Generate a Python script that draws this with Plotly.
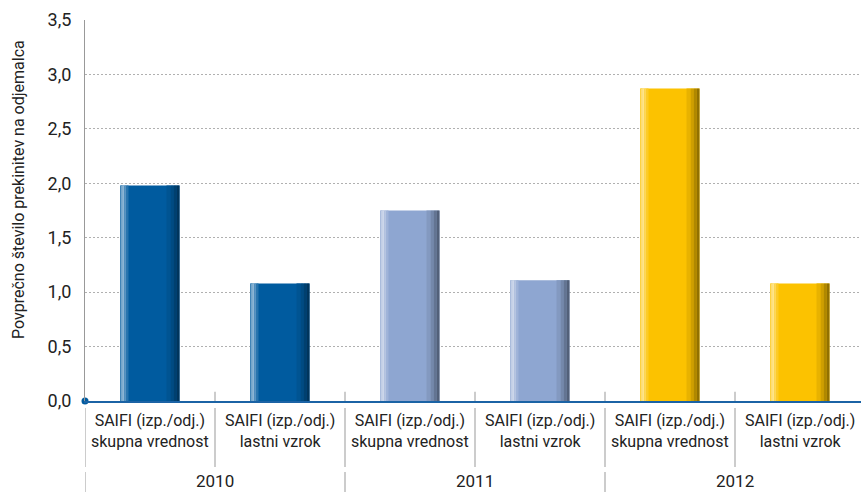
import plotly.graph_objects as go

# ---- data ----
categories = ["SAIFI (izp./odj.)<br>skupna vrednost", "SAIFI (izp./odj.)<br>lastni vzrok",
              "SAIFI (izp./odj.)<br>skupna vrednost", "SAIFI (izp./odj.)<br>lastni vzrok",
              "SAIFI (izp./odj.)<br>skupna vrednost", "SAIFI (izp./odj.)<br>lastni vzrok"]
years = ["2010", "2011", "2012"]
values = [1.98, 1.08, 1.75, 1.11, 2.87, 1.08]
y_title = "Povprečno število prekinitev na odjemalca"

# ---- styling ----
base_colors = ["#005b9f", "#005b9f", "#8ea6d1", "#8ea6d1", "#fcc200", "#fcc200"]
FONT = "Roboto"
W, H = 861, 492
L, T, B = 85, 20, 91
PX_PER_CAT = 130.0
plot_w = W - L
x_range = [-0.5, -0.5 + plot_w / PX_PER_CAT]
plot_h = H - T - B

def hex2rgb(h):
    h = h.lstrip("#")
    return [int(h[i:i + 2], 16) for i in (0, 2, 4)]

def mix(h, target, f):
    r = hex2rgb(h)
    return "rgb(%d,%d,%d)" % tuple(round(c + (target - c) * f) for c in r)

xs = list(range(len(values)))
bar_px = 59.0
unit = 1.0 / PX_PER_CAT
# (start px, end px, target, factor)
profile = [
    (0, 59, 255, 0.0),
    (0, 1, 255, 0.25),
    (1, 2, 255, 0.45),
    (2, 4, 255, 0.55),
    (4, 6, 255, 0.35),
    (6, 8, 255, 0.15),
    (46, 50, 0, 0.08),
    (50, 53, 0, 0.18),
    (53, 56, 0, 0.30),
    (56, 59, 0, 0.42),
]

fig = go.Figure()
for (a, b, tgt, f) in profile:
    fig.add_trace(go.Bar(
        x=xs, y=values,
        width=(b - a) * unit,
        offset=(a - bar_px / 2) * unit,
        marker=dict(color=[mix(c, tgt, f) for c in base_colors], line=dict(width=0)),
        showlegend=False, hoverinfo="skip",
    ))

# origin dot
fig.add_trace(go.Scatter(x=[-0.5], y=[0], mode="markers",
                         marker=dict(color="#005b9f", size=7),
                         cliponaxis=False, showlegend=False, hoverinfo="skip"))

shapes = []
# small ticks above axis between categories
for i in range(len(values) - 1):
    shapes.append(dict(type="line", xref="x", yref="y", x0=i + 0.5, x1=i + 0.5, y0=0, y1=0.085,
                       line=dict(color="#999999", width=1)))

def py(pix):
    return (H - B - pix) / plot_h

# separators between category labels
for i in range(len(values)):
    shapes.append(dict(type="line", xref="x", yref="paper", x0=i - 0.5, x1=i - 0.5,
                       y0=py(408), y1=py(467), line=dict(color="#999999", width=1)))
for g in range(len(years)):
    shapes.append(dict(type="line", xref="x", yref="paper", x0=2 * g - 0.5, x1=2 * g - 0.5,
                       y0=py(472), y1=py(492), line=dict(color="#999999", width=1)))

annotations = []
for i, c in enumerate(categories):
    annotations.append(dict(x=i, y=py(409), xref="x", yref="paper", text=c, showarrow=False,
                            xanchor="center", yanchor="top", align="center",
                            font=dict(family=FONT, size=16, color="#222222")))
for g, yr in enumerate(years):
    annotations.append(dict(x=2 * g + 0.5, y=py(481), xref="x", yref="paper", text=yr, showarrow=False,
                            xanchor="center", yanchor="middle",
                            font=dict(family=FONT, size=17, color="#222222")))
annotations.append(dict(x=(18 - L) / plot_w, y=py(190), xref="paper", yref="paper", text=y_title,
                        showarrow=False, textangle=-90, xanchor="center", yanchor="middle",
                        font=dict(family=FONT, size=16, color="#222222")))

fig.update_layout(
    width=W, height=H,
    margin=dict(l=L, r=0, t=T, b=B, autoexpand=False),
    paper_bgcolor="white", plot_bgcolor="white",
    barmode="overlay",
    separators=",.",
    shapes=shapes, annotations=annotations,
    xaxis=dict(range=x_range, showticklabels=False, ticks="", showgrid=False, zeroline=False,
               showline=True, linecolor="#1b63a5", linewidth=2, fixedrange=True, automargin=False),
    yaxis=dict(range=[0, 3.5], dtick=0.5, tickformat=".1f", showgrid=True,
               gridcolor="#b0b0b0", griddash="2px,2px", gridwidth=1, zeroline=False,
               showline=True, linecolor="#999999", linewidth=1, ticks="",
               ticklabelstandoff=9, automargin=False,
               tickfont=dict(family=FONT, size=18, color="#222222")),
    font=dict(family=FONT),
)

fig.write_html("out.html", config={"displayModeBar": False},
               post_script="document.body.style.margin='0';")
